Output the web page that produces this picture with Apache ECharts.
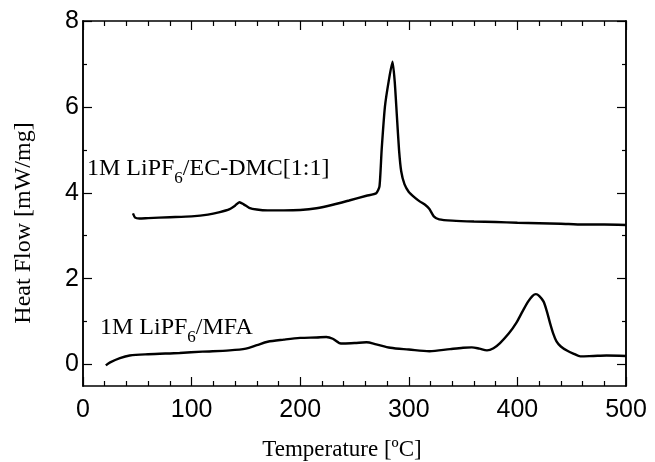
<!DOCTYPE html>
<html>
<head>
<meta charset="utf-8">
<script src="https://cdn.jsdelivr.net/npm/echarts@6/dist/echarts.min.js"></script>
<style>
html,body{margin:0;padding:0;background:#fff;}
#chart{width:655px;height:462px;}
</style>
</head>
<body>
<div id="chart"></div>
<script>
// ---- data ----
const ecTemp = [46, 48, 52, 60, 80, 100, 115, 126, 135, 140, 144, 148, 153, 160, 170, 185, 200, 215, 230, 245, 261, 270, 273, 275, 278, 281.5, 285, 287, 289, 291, 293, 296, 300, 305, 310, 315, 319, 323, 328, 340, 360, 380, 400, 420, 440, 460, 480, 500];
const ecFlow = [3.52, 3.42, 3.40, 3.41, 3.43, 3.45, 3.49, 3.55, 3.62, 3.70, 3.78, 3.73, 3.65, 3.61, 3.59, 3.59, 3.60, 3.64, 3.72, 3.82, 3.93, 3.99, 4.15, 5.00, 6.00, 6.60, 7.05, 6.60, 5.80, 5.00, 4.50, 4.20, 4.02, 3.90, 3.80, 3.72, 3.62, 3.45, 3.38, 3.35, 3.33, 3.32, 3.30, 3.29, 3.28, 3.26, 3.26, 3.25];

const mfaTemp = [21, 25, 34, 43, 60, 89, 110, 135, 150, 160, 170, 185, 200, 215, 224, 230, 236, 240, 250, 261, 270, 283, 300, 319, 338, 350, 358, 365, 372, 378, 384, 392, 399, 405, 410, 414, 417, 420, 424, 427, 430, 433, 436, 440, 446, 452, 458, 470, 482, 500];
const mfaFlow = [-0.02, 0.05, 0.15, 0.21, 0.24, 0.27, 0.30, 0.33, 0.37, 0.45, 0.53, 0.58, 0.62, 0.63, 0.64, 0.60, 0.50, 0.49, 0.50, 0.52, 0.47, 0.39, 0.35, 0.31, 0.36, 0.39, 0.40, 0.37, 0.33, 0.38, 0.50, 0.72, 0.97, 1.25, 1.47, 1.60, 1.64, 1.60, 1.47, 1.25, 0.97, 0.72, 0.54, 0.42, 0.32, 0.25, 0.19, 0.20, 0.21, 0.20];

const xTickLabels = [0, 100, 200, 300, 400, 500];
const yTickLabels = [0, 2, 4, 6, 8];
const yMinorTicks = [1, 3, 5, 7];

const seriesNames = ['1M LiPF6/EC-DMC[1:1]', '1M LiPF6/MFA'];
const xTitle = 'Temperature [\u00BAC]';
const yTitle = 'Heat Flow [mW/mg]';

// ---- chart ----
const chart = echarts.init(document.getElementById('chart'), null, {renderer: 'canvas'});
const pairs = (xs, ys) => xs.map((x, i) => [x, ys[i]]);
const labelFont = {fontFamily: 'Liberation Sans, Arial, sans-serif', fontSize: 25, color: '#000'};
const axisLine = {show: true, onZero: false, lineStyle: {color: '#000', width: 1.5}};
const Y_MIN = -0.5, Y_MAX = 8;

function yAxisDef(position, values, len, showLabels) {
  return {
    type: 'value', position: position, min: Y_MIN, max: Y_MAX,
    axisLine: axisLine,
    splitLine: {show: false},
    axisTick: {show: true, inside: true, length: len, customValues: values, lineStyle: {color: '#000', width: 1.2}},
    axisLabel: showLabels ? Object.assign({show: true, margin: 4, customValues: values}, labelFont) : {show: false}
  };
}
function xAxisDef(position, showLabels) {
  return {
    type: 'value', position: position, min: 0, max: 500, interval: 100,
    axisLine: axisLine,
    splitLine: {show: false},
    axisTick: {show: true, inside: true, length: 9, lineStyle: {color: '#000', width: 1.2}},
    minorTick: {show: true, splitNumber: 5, length: 5, lineStyle: {color: '#000', width: 1.2}},
    minorSplitLine: {show: false},
    axisLabel: showLabels ? Object.assign({show: true, margin: 12, showMinLabel: true, showMaxLabel: true,
      customValues: xTickLabels}, labelFont) : {show: false}
  };
}

const lineStyle = {color: '#000', width: 2.4};
const option = {
  backgroundColor: '#fff',
  animation: false,
  grid: {left: 83, right: 29, top: 21, bottom: 76, containLabel: false},
  xAxis: [xAxisDef('bottom', true), xAxisDef('top', false)],
  yAxis: [
    yAxisDef('left', yTickLabels, 9, true),
    yAxisDef('left', yMinorTicks, 4, false),
    yAxisDef('right', yTickLabels, 9, false),
    yAxisDef('right', yMinorTicks, 4, false)
  ],
  series: [
    {name: seriesNames[0], type: 'line', xAxisIndex: 0, yAxisIndex: 0, data: pairs(ecTemp, ecFlow),
     showSymbol: false, smooth: 0.2, lineStyle: lineStyle},
    {name: seriesNames[1], type: 'line', xAxisIndex: 0, yAxisIndex: 0, data: pairs(mfaTemp, mfaFlow),
     showSymbol: false, smooth: 0.3, lineStyle: lineStyle}
  ],
  graphic: [
    {type: 'text', x: 342, y: 450, style: {text: xTitle, fontFamily: 'Liberation Serif, Times New Roman, serif',
      fontSize: 23, fill: '#000', align: 'center', verticalAlign: 'middle'}},
    {type: 'text', x: 24, y: 223, rotation: Math.PI / 2, style: {text: yTitle,
      fontFamily: 'Liberation Serif, Times New Roman, serif', fontSize: 24, fill: '#000', align: 'center', verticalAlign: 'middle'}},
    {type: 'text', x: 87, y: 169, style: {
      text: '{a|1M LiPF}{s|6}{a|/EC-DMC[1:1]}', align: 'left', verticalAlign: 'middle',
      rich: {
        a: {fontFamily: 'Liberation Serif, Times New Roman, serif', fontSize: 24, lineHeight: 36, verticalAlign: 'middle', fill: '#000'},
        s: {fontFamily: 'Liberation Serif, Times New Roman, serif', fontSize: 17, lineHeight: 17, verticalAlign: 'bottom', fill: '#000'}
      }}},
    {type: 'text', x: 100, y: 328, style: {
      text: '{a|1M LiPF}{s|6}{a|/MFA}', align: 'left', verticalAlign: 'middle',
      rich: {
        a: {fontFamily: 'Liberation Serif, Times New Roman, serif', fontSize: 24, lineHeight: 36, verticalAlign: 'middle', fill: '#000'},
        s: {fontFamily: 'Liberation Serif, Times New Roman, serif', fontSize: 17, lineHeight: 17, verticalAlign: 'bottom', fill: '#000'}
      }}}
  ]
};
chart.setOption(option);
</script>
</body>
</html>
